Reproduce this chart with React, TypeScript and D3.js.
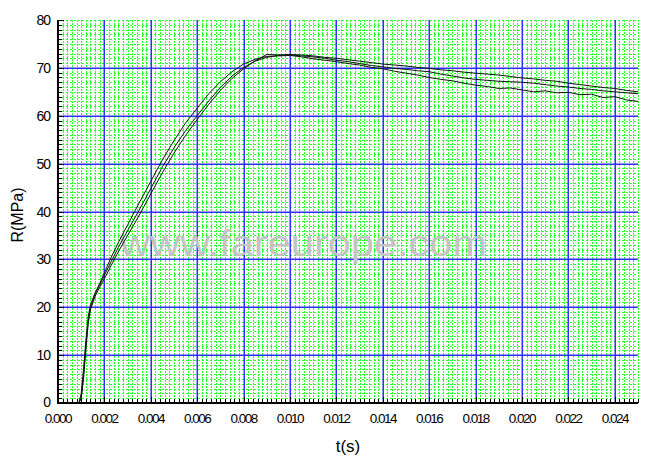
import React from "react";
import * as d3 from "d3";

const timeS = [0, 0.0005, 0.0009, 0.001, 0.0011, 0.0012, 0.0013, 0.0014, 0.0016, 0.0018, 0.002, 0.0023, 0.0026, 0.003, 0.0035, 0.004, 0.0045, 0.005, 0.0055, 0.006,
  0.0065, 0.007, 0.0075, 0.008, 0.0085, 0.009, 0.0095, 0.01, 0.0105, 0.011, 0.0115, 0.012, 0.0125, 0.013, 0.0135, 0.014, 0.0145, 0.015, 0.0155, 0.016,
  0.0165, 0.017, 0.0175, 0.018, 0.0185, 0.019, 0.0195, 0.02, 0.0205, 0.021, 0.0215, 0.022, 0.0225, 0.023, 0.0235, 0.024, 0.0245, 0.025];

const series1 = [0, 0, 0, 2, 7, 13, 18, 20.5, 23, 25, 27.2, 30.5, 33.5, 37.2, 41.8, 46.3, 50.8, 54.8, 58.5, 61.6,
  64.6, 67.1, 69.2, 70.8, 71.8, 72.4, 72.5, 72.6, 72.3, 71.9, 71.6, 71.3, 70.9, 70.6, 70.1, 69.8, 69.3, 68.9, 68.5, 68.0,
  67.6, 67.3, 66.8, 66.4, 66.1, 65.7, 65.8, 65.4, 65.0, 65.2, 64.8, 64.9, 64.4, 64.5, 63.8, 64.0, 63.3, 63.0];

const series2 = [0, 0, 0, 1, 6, 12, 17, 20, 22.8, 24.7, 26.7, 29.6, 32.5, 36, 40.3, 44.8, 49.3, 53.3, 56.9, 60,
  63.1, 65.9, 68.3, 70.1, 71.4, 72.2, 72.6, 72.7, 72.5, 72.3, 72.0, 71.6, 71.3, 70.9, 70.5, 70.2, 69.9, 69.7, 69.4, 69.2,
  68.7, 68.3, 67.9, 67.6, 67.4, 67.2, 67.1, 67.0, 66.8, 66.5, 66.2, 66.0, 65.7, 65.5, 65.2, 65.0, 64.8, 64.6];

const series3 = [0, 0, 0, 1, 5, 11, 16.5, 19.5, 22.3, 24.2, 26, 28.8, 31.6, 35, 39.2, 43.7, 48.1, 52.2, 55.9, 59.2,
  62.4, 65.3, 67.8, 69.8, 71.5, 72.8, 72.7, 72.8, 72.7, 72.5, 72.2, 72.0, 71.7, 71.4, 71.1, 70.8, 70.6, 70.4, 70.1, 69.9,
  69.6, 69.4, 69.1, 68.9, 68.7, 68.5, 68.2, 67.9, 67.7, 67.4, 67.2, 66.8, 66.5, 66.2, 65.9, 65.7, 65.3, 65.0];

const xTickLabels = ["0.000", "0.002", "0.004", "0.006", "0.008", "0.010", "0.012", "0.014", "0.016", "0.018", "0.020", "0.022", "0.024"];
const yTickLabels = ["0", "10", "20", "30", "40", "50", "60", "70", "80"];

const W = 650, H = 470;
const L = 58, R = 638, T = 20, B = 403;

export default function App() {
  const x = d3.scaleLinear().domain([0, 0.025]).range([L, R]);
  const y = d3.scaleLinear().domain([0, 80]).range([B, T]);
  const xMinor = d3.range(0, 0.02501, 0.0002);
  const yMinor = d3.range(0, 80.01, 1);
  const line = d3.line<number>().x((_, i) => x(timeS[i])).y((v) => y(v));
  const allSeries = [series1, series2, series3];
  const font = "Arial, 'Liberation Sans', sans-serif";
  return (
    <svg width={W} height={H} style={{ position: "absolute", left: 0, top: 0, background: "#fff" }}>
      <rect x={L} y={T} width={R - L} height={B - T} fill="#fff" />
      <g shapeRendering="crispEdges">
        {xMinor.map((t, i) => (
          <line key={"vx" + i} x1={Math.round(x(t)) + 0.5} x2={Math.round(x(t)) + 0.5} y1={T} y2={B} stroke="#2cff2c" strokeDasharray="2,1" />
        ))}
        {yMinor.map((v, i) => (
          <line key={"hy" + i} x1={L} x2={R} y1={Math.round(y(v)) + 0.5} y2={Math.round(y(v)) + 0.5} stroke="#2cff2c" strokeDasharray="2,2" />
        ))}
      </g>
      <g>
        {xTickLabels.slice(1).map((s) => (
          <line key={"bx" + s} x1={Math.round(x(+s)) + 0.25} x2={Math.round(x(+s)) + 0.25} y1={T} y2={B} stroke="#3030ff" strokeWidth={1.5} />
        ))}
        {yTickLabels.slice(1, -1).map((s) => (
          <line key={"by" + s} x1={L} x2={R} y1={Math.round(y(+s)) + 0.25} y2={Math.round(y(+s)) + 0.25} stroke="#3030ff" strokeWidth={1.5} />
        ))}
      </g>
      <text x={120} y={256} fontFamily={font} fontSize={37} fill="#c4c4c4" textLength={367} lengthAdjust="spacingAndGlyphs">www.fareurope.com</text>
      {allSeries.map((s, i) => (
        <path key={"s" + i} d={line(s) || ""} fill="none" stroke="#111" strokeWidth={1} />
      ))}
      <g shapeRendering="crispEdges">
        <line x1={L} x2={L} y1={T} y2={B + 1} stroke="#000" strokeWidth={2} />
        <line x1={L - 1} x2={R} y1={B} y2={B} stroke="#000" strokeWidth={2} />
        {yMinor.map((v, i) => (
          <line key={"ty" + i} x1={L} x2={L + (v % 10 === 0 ? 6 : 4)} y1={Math.round(y(v)) + 0.5} y2={Math.round(y(v)) + 0.5} stroke="#000" />
        ))}
        {xMinor.map((t, i) => (
          <line key={"tx" + i} x1={Math.round(x(t)) + 0.5} x2={Math.round(x(t)) + 0.5} y1={B} y2={B - (i % 10 === 0 ? 6 : 4)} stroke="#000" />
        ))}
      </g>
      {yTickLabels.map((s) => (
        <text key={"yl" + s} x={50} y={y(+s) + (s === "0" ? 4 : 5)} textAnchor="end" fontFamily={font} fontSize={14} fill="#000" letterSpacing={-1}>{s}</text>
      ))}
      {xTickLabels.map((s) => (
        <text key={"xl" + s} x={x(+s)} y={423} textAnchor="middle" fontFamily={font} fontSize={13.5} fill="#000" letterSpacing={-1.5}>{s}</text>
      ))}
      <text x={348} y={452} textAnchor="middle" fontFamily={font} fontSize={17} fill="#000">t(s)</text>
      <text transform={`translate(23,215) rotate(-90)`} textAnchor="middle" fontFamily={font} fontSize={16} fill="#000">R(MPa)</text>
    </svg>
  );
}
